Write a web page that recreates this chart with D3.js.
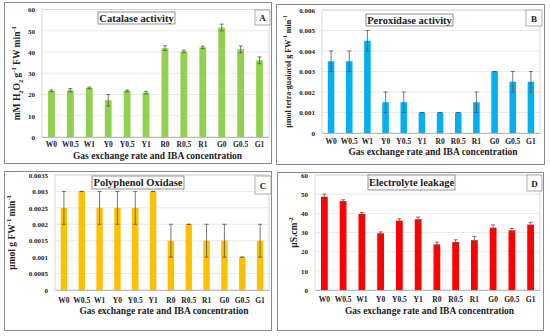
<!DOCTYPE html>
<html><head><meta charset="utf-8">
<script src="https://cdn.jsdelivr.net/npm/d3@7"></script>
<style>body{margin:0;background:#fff}svg{display:block}text{font-family:"Liberation Serif","Times New Roman",serif;font-weight:bold;fill:#222}</style>
</head><body><svg id="c" width="550" height="336"></svg>
<script>
const categories = ["W0","W0.5","W1","Y0","Y0.5","Y1","R0","R0.5","R1","G0","G0.5","G1"];
const catalase = [21.7,22,23.1,17.3,21.7,20.9,41.8,40.3,42.2,51.5,41.3,36.1];
const catalaseErr = [0.4,0.8,0.4,2.7,0.4,0.6,1.1,0.6,0.6,1.6,1.6,1.6];
const peroxidase = [0.0035,0.0035,0.0045,0.0015,0.0015,0.001,0.001,0.001,0.0015,0.003,0.0025,0.0025];
const peroxidaseErr = [0.0005,0.0005,0.0005,0.0005,0.0005,0,0,0,0.0005,0,0.0005,0.0005];
const ppo = [0.0025,0.003,0.0025,0.0025,0.0025,0.003,0.0015,0.002,0.0015,0.0015,0.001,0.0015];
const ppoErr = [0.0005,0,0.0005,0.0005,0.0005,0,0.0005,0,0.0005,0.0005,0,0.0005];
const leakage = [48.7,46.4,39.7,29.6,36.2,36.9,23.8,25,26,32.5,31.1,34.1];
const leakageErr = [1.3,0.7,0.7,0.7,1,1.2,1.2,1.2,2,1.5,1,1.2];
const ticksA = [0,10,20,30,40,50,60];
const ticksB = [0,0.001,0.002,0.003,0.004,0.005,0.006];
const ticksC = [0,0.0005,0.001,0.0015,0.002,0.0025,0.003,0.0035];
const ticksD = [0,10,20,30,40,50,60];

const svg = d3.select("#c");
const panels = [
 {vals:catalase, err:catalaseErr, ticks:ticksA, color:"#92d050", title:"Catalase activity", letter:"A",
  frame:[4,2,271,163], plot:[42,269,9.5,137], tbox:[98,12,175,24], lbox:[255,10,270,25],
  ytitle:'mM H<tspan baseline-shift="sub" font-size="6.5">2</tspan>O<tspan baseline-shift="sub" font-size="6.5">2</tspan> g<tspan baseline-shift="super" font-size="6.5">-1</tspan> FW min<tspan baseline-shift="super" font-size="6.5">-1</tspan>', ytx:18, xlabY:147, xtitY:159, yfs:9.5},
 {vals:peroxidase, err:peroxidaseErr, ticks:ticksB, color:"#00b0f0", title:"Peroxidase  activity", letter:"B",
  frame:[276,4,544,164], plot:[322,540,10,133], tbox:[366,14,453,26], lbox:[526,10,542,26],
  ytitle:'µmol tetra-guaiacol g FW<tspan baseline-shift="super" font-size="5.5">-1</tspan> min<tspan baseline-shift="super" font-size="5.5">-1</tspan>', ytx:289, xlabY:144, xtitY:155, yfs:8},
 {vals:ppo, err:ppoErr, ticks:ticksC, color:"#ffc000", title:"Polyphenol  Oxidase", letter:"C",
  frame:[4,171,271,330], plot:[55,269,175,290], tbox:[92,176,184,189], lbox:[255,176,271,194],
  ytitle:'µmol g FW<tspan baseline-shift="super" font-size="6.5">-1</tspan> min<tspan baseline-shift="super" font-size="6.5">-1</tspan>', ytx:13, xlabY:303, xtitY:314, yfs:9.5},
 {vals:leakage, err:leakageErr, ticks:ticksD, color:"#ff0000", title:"Electrolyte  leakage", letter:"D",
  frame:[277,172,543,330], plot:[315,540,175,290], tbox:[368,175,455,190], lbox:[527,175,542,191],
  ytitle:'µS.cm<tspan baseline-shift="super" font-size="6.5">-2</tspan>', ytx:295, xlabY:302, xtitY:314, yfs:9.5}
];

panels.forEach(p => {
  const g = svg.append("g");
  const [fx0,fy0,fx1,fy1] = p.frame;
  g.append("rect").attr("x",fx0+0.5).attr("y",fy0+0.5).attr("width",fx1-fx0).attr("height",fy1-fy0)
    .attr("fill","none").attr("stroke","#8c8c8c").attr("stroke-width",1);
  const [px0,px1,py0,py1] = p.plot;
  const x = d3.scaleBand().domain(categories).range([px0,px1]).paddingInner(0.64).paddingOuter(0.32);
  const y = d3.scaleLinear().domain([p.ticks[0], p.ticks[p.ticks.length-1]]).range([py1,py0]);
  g.append("g").selectAll("line").data(p.ticks.slice(1)).join("line")
    .attr("x1",px0).attr("x2",px1).attr("y1",d=>y(d)).attr("y2",d=>y(d))
    .attr("stroke","#e4e4e4").attr("stroke-width",0.8);
  g.append("rect").attr("x",px0).attr("y",py0).attr("width",px1-px0).attr("height",py1-py0)
    .attr("fill","none").attr("stroke","#cfcfcf").attr("stroke-width",0.8);
  const ya = g.append("g").attr("transform",`translate(${px0-4},0)`)
    .call(d3.axisLeft(y).tickValues(p.ticks).tickSize(0).tickFormat(d=>d3.format("")(d)));
  ya.select(".domain").remove();
  ya.selectAll("text").attr("font-size",7).attr("font-family","Liberation Serif").attr("font-weight","bold").attr("fill","#222");
  g.append("g").selectAll("rect").data(p.vals).join("rect")
    .attr("x",(d,i)=>x(categories[i])).attr("width",x.bandwidth())
    .attr("y",d=>y(d)).attr("height",d=>y(0)-y(d)).attr("fill",p.color);
  const eb = g.append("g").attr("stroke","#555").attr("stroke-width",0.8);
  p.vals.forEach((v,i)=>{
    const cx = x(categories[i]) + x.bandwidth()/2;
    const e = p.err[i];
    eb.append("line").attr("x1",cx).attr("x2",cx).attr("y1",y(v+e)).attr("y2",y(v-e));
    eb.append("line").attr("x1",cx-2).attr("x2",cx+2).attr("y1",y(v+e)).attr("y2",y(v+e));
    eb.append("line").attr("x1",cx-2).attr("x2",cx+2).attr("y1",y(v-e)).attr("y2",y(v-e));
  });
  const xa = g.append("g").attr("transform",`translate(0,${py1})`)
    .call(d3.axisBottom(x).tickSize(0).tickPadding(0));
  xa.select(".domain").attr("stroke","#bbb");
  xa.selectAll("text").attr("y",p.xlabY-py1).attr("dy","0").attr("font-size",7.5).attr("font-family","Liberation Serif").attr("font-weight","bold").attr("fill","#222");
  g.append("text").attr("x",(px0+px1)/2+2).attr("y",p.xtitY).attr("text-anchor","middle").attr("font-size",9.5)
    .text("Gas exchange rate and IBA concentration");
  g.append("text").attr("transform",`translate(${p.ytx},${(py0+py1)/2}) rotate(-90)`)
    .attr("text-anchor","middle").attr("dominant-baseline","middle").attr("font-size",p.yfs).html(p.ytitle);
  const [tx0,ty0,tx1,ty1] = p.tbox;
  g.append("rect").attr("x",tx0).attr("y",ty0).attr("width",tx1-tx0).attr("height",ty1-ty0)
    .attr("fill","#fff").attr("stroke","#777").attr("stroke-width",0.8);
  g.append("text").attr("x",(tx0+tx1)/2).attr("y",(ty0+ty1)/2+3.7).attr("text-anchor","middle").attr("font-size",10.5).text(p.title);
  const [lx0,ly0,lx1,ly1] = p.lbox;
  g.append("rect").attr("x",lx0).attr("y",ly0).attr("width",lx1-lx0).attr("height",ly1-ly0)
    .attr("fill","#fff").attr("stroke","#999").attr("stroke-width",0.8);
  g.append("text").attr("x",(lx0+lx1)/2).attr("y",(ly0+ly1)/2+3.5).attr("text-anchor","middle").attr("font-size",9).text(p.letter);
});
</script></body></html>
